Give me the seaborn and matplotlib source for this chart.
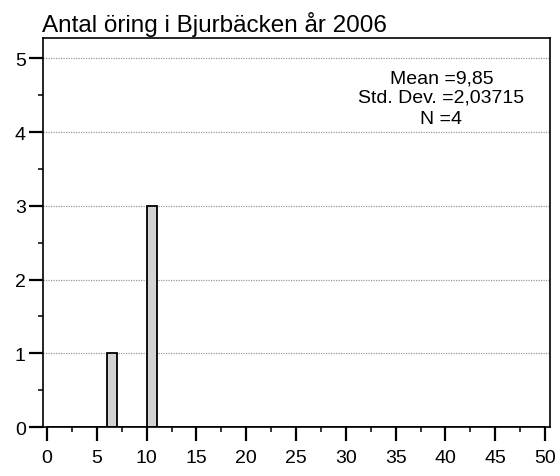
import numpy as np
import pandas as pd
import seaborn as sns
import matplotlib
matplotlib.use("Agg")
from matplotlib import pyplot as plt
from matplotlib.ticker import MultipleLocator

values = [6.79, 10.87, 10.87, 10.87]
stat_lines = ["Mean =9,85", "Std. Dev. =2,03715", "N =4"]
title = "Antal öring i Bjurbäcken år 2006"

sns.set_style("white")
plt.rcParams['font.family'] = ['Liberation Sans', 'DejaVu Sans']
plt.rcParams['text.color'] = 'black'

fig = plt.figure(figsize=(5.6, 4.77), dpi=100)
ax = fig.add_axes([0.0759, 0.1027, 0.9063, 0.8145])

df = pd.DataFrame({"antal": values})
sns.histplot(data=df, x="antal", bins=np.arange(0, 51, 1), color="#d3d3d3",
             edgecolor="black", linewidth=1.3, alpha=1, ax=ax)

ax.set_xlim(-0.45, 50.5)
ax.set_ylim(0, 5.268)
ax.xaxis.set_major_locator(MultipleLocator(5))
ax.xaxis.set_minor_locator(MultipleLocator(2.5))
ax.yaxis.set_major_locator(MultipleLocator(1))
ax.yaxis.set_minor_locator(MultipleLocator(0.5))
ax.tick_params(axis="both", which="major", direction="out", length=10, width=1.6,
               labelsize=14, colors="black", bottom=True, left=True)
ax.tick_params(axis="both", which="minor", direction="out", length=3.8, width=1.3,
               bottom=True, left=True)
ax.tick_params(axis="x", which="major", pad=5.5)
ax.tick_params(axis="y", which="major", pad=2)

for yv in range(1, 6):
    ax.axhline(yv, color="#999999", linestyle=(0, (1, 1)), linewidth=0.9, zorder=0)

for side in ["left", "bottom", "right", "top"]:
    ax.spines[side].set_visible(True)
    ax.spines[side].set_color("black")
    ax.spines[side].set_linewidth(1.2)

ax.set_xlabel("")
ax.set_ylabel("")
fig.text(0.075, 0.933, title, ha="left", va="baseline", fontsize=17.5, color="black")

# summary statistics box text, one line at a time
for line, yb in zip(stat_lines, [4.665, 4.407, 4.123]):
    ax.text(39.6, yb, line, ha="center", va="baseline", fontsize=14, color="black")

fig.savefig("out.png", dpi=100)
